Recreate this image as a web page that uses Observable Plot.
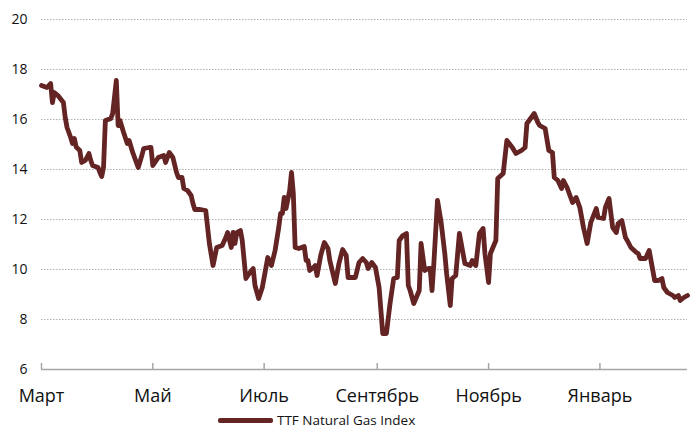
<!DOCTYPE html>
<html>
<head>
<meta charset="utf-8">
<script src="https://cdn.jsdelivr.net/npm/d3@7"></script>
<script src="https://cdn.jsdelivr.net/npm/@observablehq/plot@0.6"></script>
<style>
  html, body { margin: 0; padding: 0; background: #fff; }
  body { width: 693px; font-family: "Open Sans", sans-serif; }
  #chart svg { display: block; }
  #legend { position: relative; height: 14px; margin-top: 5px; }
  #legend .swatch { position: absolute; left: 218px; top: 5px; width: 55px; height: 4.5px; background: #632423; border-radius: 2px; }
  #legend .label { position: absolute; left: 277px; top: 0; line-height: 14px; font-size: 13.5px; color: #111; white-space: nowrap; }
</style>
</head>
<body>
<div id="chart"></div>
<div id="legend"><span class="swatch"></span><span class="label">TTF Natural Gas Index</span></div>
<script>
const seriesName = "TTF Natural Gas Index";

const dates = [
  "2023-03-01","2023-03-04","2023-03-06","2023-03-07","2023-03-08","2023-03-10","2023-03-13","2023-03-14","2023-03-15","2023-03-17",
  "2023-03-18","2023-03-19","2023-03-20","2023-03-22","2023-03-23","2023-03-25","2023-03-27","2023-03-28","2023-03-29","2023-04-01",
  "2023-04-02","2023-04-03","2023-04-04","2023-04-05","2023-04-08","2023-04-09","2023-04-11","2023-04-12","2023-04-13","2023-04-15",
  "2023-04-17","2023-04-18","2023-04-20","2023-04-23","2023-04-25","2023-04-26","2023-04-29","2023-04-30","2023-05-01","2023-05-04",
  "2023-05-07","2023-05-08","2023-05-10","2023-05-12","2023-05-14","2023-05-15","2023-05-17","2023-05-18","2023-05-20","2023-05-22",
  "2023-05-23","2023-05-24","2023-05-27","2023-05-30","2023-06-01","2023-06-03","2023-06-05","2023-06-08","2023-06-10","2023-06-11",
  "2023-06-13","2023-06-14","2023-06-15","2023-06-16","2023-06-18","2023-06-19","2023-06-21","2023-06-24","2023-06-25","2023-06-26",
  "2023-06-28","2023-06-30","2023-07-03","2023-07-05","2023-07-07","2023-07-09","2023-07-10","2023-07-11","2023-07-12","2023-07-13",
  "2023-07-15","2023-07-16","2023-07-17","2023-07-18","2023-07-20","2023-07-23","2023-07-24","2023-07-25","2023-07-26","2023-07-28",
  "2023-07-29","2023-07-30","2023-08-01","2023-08-03","2023-08-05","2023-08-06","2023-08-09","2023-08-11","2023-08-13","2023-08-15",
  "2023-08-16","2023-08-18","2023-08-20","2023-08-22","2023-08-24","2023-08-26","2023-08-27","2023-08-29","2023-08-31","2023-09-02",
  "2023-09-04","2023-09-06","2023-09-08","2023-09-10","2023-09-12","2023-09-13","2023-09-15","2023-09-17","2023-09-18","2023-09-19",
  "2023-09-21","2023-09-24","2023-09-25","2023-09-27","2023-09-29","2023-09-30","2023-10-01","2023-10-02","2023-10-04","2023-10-06",
  "2023-10-08","2023-10-09","2023-10-11","2023-10-12","2023-10-14","2023-10-16","2023-10-18","2023-10-19","2023-10-22","2023-10-23",
  "2023-10-25","2023-10-27","2023-10-29","2023-10-30","2023-11-01","2023-11-02","2023-11-05","2023-11-06","2023-11-09","2023-11-11",
  "2023-11-14","2023-11-16","2023-11-19","2023-11-21","2023-11-22","2023-11-26","2023-11-28","2023-11-29","2023-12-02","2023-12-04",
  "2023-12-06","2023-12-07","2023-12-09","2023-12-11","2023-12-12","2023-12-14","2023-12-17","2023-12-19","2023-12-21","2023-12-23",
  "2023-12-25","2023-12-27","2023-12-30","2023-12-31","2024-01-03","2024-01-04","2024-01-06","2024-01-08","2024-01-10","2024-01-11",
  "2024-01-13","2024-01-15","2024-01-16","2024-01-18","2024-01-21","2024-01-22","2024-01-23","2024-01-26","2024-01-28","2024-01-29",
  "2024-01-31","2024-02-02","2024-02-04","2024-02-05","2024-02-07","2024-02-10","2024-02-11","2024-02-13","2024-02-14","2024-02-16",
  "2024-02-18"
];

const values = [
  17.36,17.28,17.44,16.68,17.08,16.96,16.68,16.08,15.68,15.28,
  15.04,15.24,14.90,14.76,14.28,14.36,14.64,14.36,14.16,14.08,
  13.88,13.72,14.10,15.96,16.04,16.24,17.56,15.76,15.96,15.48,
  15.04,15.16,14.68,14.08,14.56,14.84,14.88,14.88,14.16,14.48,
  14.56,14.28,14.68,14.48,13.88,13.68,13.68,13.24,13.16,12.96,
  12.64,12.40,12.40,12.36,11.04,10.16,10.88,10.96,11.28,11.48,
  10.88,11.48,11.04,11.48,11.56,11.16,9.64,9.96,10.04,9.36,
  8.84,9.28,10.48,10.16,10.76,11.68,12.24,12.24,12.88,12.44,
  13.16,13.88,13.04,10.88,10.84,10.92,10.36,10.36,9.96,10.08,
  10.16,9.76,10.56,11.08,10.84,10.36,9.44,10.24,10.80,10.56,
  9.68,9.68,9.68,10.28,10.44,10.28,10.04,10.28,10.08,9.28,
  7.44,7.44,8.64,9.64,9.68,11.16,11.36,11.44,9.36,9.16,
  8.64,9.16,11.04,9.96,10.04,10.04,9.16,10.24,12.76,11.88,
  10.64,9.84,8.56,9.64,9.76,11.44,10.64,10.24,10.16,10.36,
  10.16,11.44,11.64,10.64,9.48,10.64,11.16,13.64,13.84,15.16,
  14.88,14.64,14.76,14.88,15.84,16.24,15.88,15.76,15.64,14.76,
  14.68,13.68,13.56,13.24,13.56,13.28,12.68,12.88,12.48,11.68,
  11.04,11.88,12.44,12.08,12.04,12.48,12.84,11.68,11.48,11.84,
  11.96,11.28,11.16,10.88,10.68,10.64,10.44,10.44,10.76,10.36,
  9.56,9.56,9.64,9.28,9.08,8.96,8.88,8.96,8.76,8.88,
  8.96
];

const monthTicks = ["2023-03-01","2023-05-01","2023-07-01","2023-09-01","2023-11-01","2024-01-01"];
const monthLabels = ["Март","Май","Июль","Сентябрь","Ноябрь","Январь"];
const yTicks = [6, 8, 10, 12, 14, 16, 18, 20];
const gridValues = [8, 10, 12, 14, 16, 18, 20];
const xDomain = ["2023-03-01", "2024-02-18"];

const data = dates.map((d, i) => ({date: new Date(d), value: values[i], series: seriesName}));
const tickDates = monthTicks.map(d => new Date(d));
const labelMap = new Map(tickDates.map((d, i) => [+d, monthLabels[i]]));

const chart = Plot.plot({
  width: 693,
  height: 408,
  marginLeft: 41,
  marginRight: 6,
  marginTop: 19,
  marginBottom: 39,
  style: {fontFamily: "'Open Sans', sans-serif", color: "#111", background: "#fff"},
  x: {type: "utc", domain: xDomain.map(d => new Date(d))},
  y: {domain: [6, 20]},
  marks: [
    Plot.ruleY(gridValues, {stroke: "#b0b0b0", strokeWidth: 1, strokeDasharray: "1.5,1.5"}),
    Plot.ruleY([6], {stroke: "#a6a6a6", strokeWidth: 1.5}),
    Plot.ruleX(tickDates, {x: d => d, y1: 6, y2: 6.24, stroke: "#a6a6a6", strokeWidth: 1.5}),
    Plot.axisY(yTicks, {tickSize: 0, tickPadding: 14, fontSize: 14, label: null}),
    Plot.axisX(tickDates, {tickSize: 0, tickPadding: 20, fontSize: 18, label: null, tickFormat: d => labelMap.get(+d)}),
    Plot.line(data, {x: "date", y: "value", stroke: "#632423", strokeWidth: 4.8, strokeLinejoin: "round", strokeLinecap: "round"})
  ]
});

document.getElementById("chart").appendChild(chart);
</script>
</body>
</html>
